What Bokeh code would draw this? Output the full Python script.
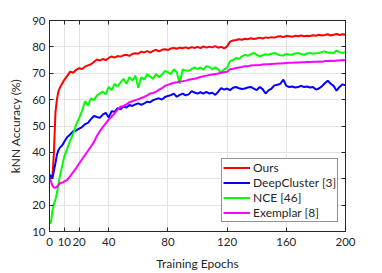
from bokeh.plotting import figure
from bokeh.models import FixedTicker, LinearAxis, Legend, LegendItem, Range1d, CustomJSTickFormatter
from bokeh.embed import file_html
from bokeh.resources import INLINE

epochs = list(range(0, 11)) + list(range(12, 201, 2))

ours = [30.5, 30.8, 31.0, 40.0, 55.0, 60.0, 63.0, 64.5, 65.5, 66.5, 67.5,
        69.0, 70.6, 70.2, 71.3, 71.9, 71.6, 72.5, 73.0, 73.4, 74.3,
        75.2, 74.8, 75.4, 75.0, 75.8, 76.4, 75.9, 76.5, 76.3, 76.8,
        77.0, 76.6, 77.3, 77.6, 77.4, 78.2, 77.9, 78.4, 77.8, 78.5,
        78.9, 78.3, 78.9, 79.1, 78.8, 79.4, 79.6, 79.3, 79.7, 79.5,
        79.8, 79.4, 79.9, 79.6, 80.0, 79.5, 80.2, 79.7, 80.1, 79.8,
        80.3, 79.7, 80.0, 79.4, 80.2, 82.0, 82.4, 82.6, 82.9, 82.7,
        83.1, 82.9, 83.3, 83.0, 83.2, 83.5, 83.2, 83.6, 83.4, 83.7,
        83.5, 83.9, 84.0, 83.7, 84.1, 84.0, 83.8, 84.2, 84.0, 84.3,
        84.0, 84.2, 84.1, 84.4, 84.2, 84.6, 84.3, 84.5, 84.8, 84.3,
        84.6, 84.9, 84.5, 84.8, 84.6]

deepcluster = [31.5, 31.0, 30.4, 33.0, 35.9, 39.0, 40.8, 41.8, 42.3, 43.0, 44.0,
               45.8, 46.8, 48.0, 48.3, 49.0, 49.6, 50.7, 51.2, 52.6, 53.8,
               53.4, 53.1, 54.3, 55.0, 53.2, 55.6, 55.4, 56.8, 56.3, 57.4,
               57.0, 58.0, 57.6, 58.2, 58.6, 58.0, 58.6, 59.2, 59.0, 59.8,
               60.2, 60.5, 60.0, 61.0, 61.4, 61.7, 62.3, 61.1, 61.8, 62.3,
               61.6, 62.0, 63.2, 62.7, 62.3, 62.8, 62.3, 62.9, 62.3, 62.6,
               61.8, 63.0, 64.4, 63.8, 64.2, 63.6, 64.5, 64.8, 64.3, 64.0,
               64.2, 64.6, 64.8, 64.2, 63.6, 64.8, 64.0, 62.3, 63.5, 64.2,
               65.4, 65.6, 66.0, 67.6, 65.2, 64.8, 65.0, 64.6, 64.8, 65.2,
               64.8, 65.0, 64.6, 64.8, 63.8, 64.2, 65.0, 66.2, 67.2, 66.0,
               65.2, 63.4, 64.8, 65.8, 65.4]

nce = [13.0, 13.5, 18.0, 20.5, 22.0, 24.5, 28.0, 31.0, 33.5, 36.0, 38.5,
       41.5, 44.5, 47.0, 50.5, 53.0, 55.7, 59.4, 57.8, 60.5, 59.8,
       61.5, 62.3, 63.0, 62.0, 64.8, 63.6, 66.0, 65.0, 66.5, 67.9,
       66.0, 68.5, 67.2, 69.1, 64.5, 68.5, 67.5, 69.7, 68.8, 67.9,
       69.7, 68.5, 69.5, 70.9, 70.4, 69.7, 71.5, 70.4, 66.0, 71.5,
       71.0, 70.9, 71.6, 72.2, 71.6, 72.2, 71.3, 72.7, 72.4, 71.5,
       72.2, 71.5, 70.2, 71.5, 72.0, 74.6, 75.0, 75.8, 75.4, 76.4,
       77.0, 76.6, 77.2, 77.7, 77.0, 76.4, 76.8, 77.2, 77.0, 77.4,
       77.7, 77.2, 76.8, 76.7, 77.3, 77.0, 77.0, 77.5, 77.7, 77.3,
       77.0, 77.5, 77.7, 77.4, 77.6, 77.7, 78.0, 78.3, 77.8, 77.9,
       77.7, 78.6, 78.0, 77.7, 78.0]

exemplar = [30.4, 29.0, 27.3, 26.7, 26.6, 27.0, 27.5, 28.3, 28.5, 28.6, 29.0,
            29.6, 31.0, 32.5, 34.0, 35.8, 37.4, 39.0, 40.6, 42.2, 43.9,
            46.2, 48.0, 49.6, 51.0, 52.5, 53.5, 54.8, 56.2, 57.3, 57.6,
            58.2, 59.0, 59.4, 59.8, 60.2, 60.6, 61.0, 61.6, 62.3, 62.5,
            63.0, 63.8, 64.3, 65.2, 65.6, 66.0, 66.4, 66.6, 66.9, 67.0,
            67.2, 67.5, 67.7, 67.9, 68.2, 68.6, 68.9, 69.1, 69.3, 69.5,
            69.7, 69.9, 70.2, 70.4, 70.6, 71.5, 71.7, 72.0, 72.2, 72.4,
            72.7, 72.7, 72.9, 73.0, 73.0, 73.1, 73.3, 73.4, 73.4, 73.5,
            73.6, 73.7, 73.7, 73.8, 73.9, 74.0, 74.0, 74.1, 74.1, 74.2,
            74.2, 74.3, 74.3, 74.4, 74.4, 74.5, 74.4, 74.6, 74.6, 74.7,
            74.6, 74.8, 74.8, 75.0, 74.9]

series_names = ["Ours", "DeepCluster [3]", "NCE [46]", "Exemplar [8]"]
series_colors = ["#ff0000", "#0000ff", "#00ff00", "#ff00ff"]
x_ticks = [0, 10, 20, 40, 80, 120, 160, 200]
y_ticks = [10, 20, 30, 40, 50, 60, 70, 80, 90]

FONT = "Lato"
AX = "#262626"

p = figure(width=374, height=273, output_backend="svg", toolbar_location=None,
           x_range=Range1d(0, 200), y_range=Range1d(10, 90),
           min_border_left=49, min_border_right=29, min_border_top=20,
           min_border_bottom=36)
p.background_fill_color = "white"
p.border_fill_color = "white"
p.outline_line_color = AX
p.outline_line_width = 1

renderers = []
for ys, c in zip([ours, deepcluster, nce, exemplar], series_colors):
    r = p.line(epochs, ys, line_color=c, line_width=2)
    renderers.append(r)

p.xaxis.ticker = FixedTicker(ticks=x_ticks)
p.yaxis.ticker = FixedTicker(ticks=y_ticks)
for ax in [p.xaxis[0], p.yaxis[0]]:
    ax.axis_line_color = AX
    ax.major_tick_line_color = AX
    ax.major_tick_in = 4
    ax.major_tick_out = 0
    ax.minor_tick_line_color = None
    ax.major_label_text_font = FONT
    ax.major_label_text_font_size = "11.5px"
    ax.major_label_text_color = AX
    ax.axis_label_text_font = FONT
    ax.axis_label_text_font_size = "12px"
    ax.axis_label_text_font_style = "normal"
    ax.axis_label_text_color = AX
p.xaxis.axis_label = "Training Epochs"
p.yaxis.axis_label = "kNN Accuracy (%)"
p.xaxis.major_label_standoff = 6
p.xaxis.axis_label_standoff = 7
p.yaxis.major_label_standoff = 4
p.yaxis.axis_label_standoff = 6

blank = CustomJSTickFormatter(code="return '';")
top = LinearAxis(ticker=FixedTicker(ticks=x_ticks), formatter=blank,
                 major_tick_in=4, major_tick_out=0, minor_tick_line_color=None,
                 axis_line_color=AX, major_tick_line_color=AX, major_label_standoff=0)
right = LinearAxis(ticker=FixedTicker(ticks=y_ticks), formatter=blank,
                   major_tick_in=4, major_tick_out=0, minor_tick_line_color=None,
                   axis_line_color=AX, major_tick_line_color=AX, major_label_standoff=0)
p.add_layout(top, "above")
p.add_layout(right, "right")

p.xgrid.ticker = FixedTicker(ticks=x_ticks)
p.ygrid.ticker = FixedTicker(ticks=y_ticks)
p.grid.grid_line_color = "#e3e3e3"
p.grid.grid_line_width = 1

legend = Legend(items=[LegendItem(label=n, renderers=[r]) for n, r in zip(series_names, renderers)],
                location=(172, 9), orientation="vertical")
legend.label_text_font = FONT
legend.label_text_font_size = "12px"
legend.label_text_line_height = 0.9
legend.label_text_color = AX
legend.glyph_width = 27
legend.glyph_height = 13
legend.label_height = 13
legend.label_standoff = 3
legend.spacing = 0
legend.padding = 1
legend.margin = 0
legend.border_line_color = AX
legend.border_line_width = 1
legend.background_fill_color = "white"
legend.background_fill_alpha = 1
p.add_layout(legend, "center")

open("out.html", "w").write(file_html(p, INLINE))
